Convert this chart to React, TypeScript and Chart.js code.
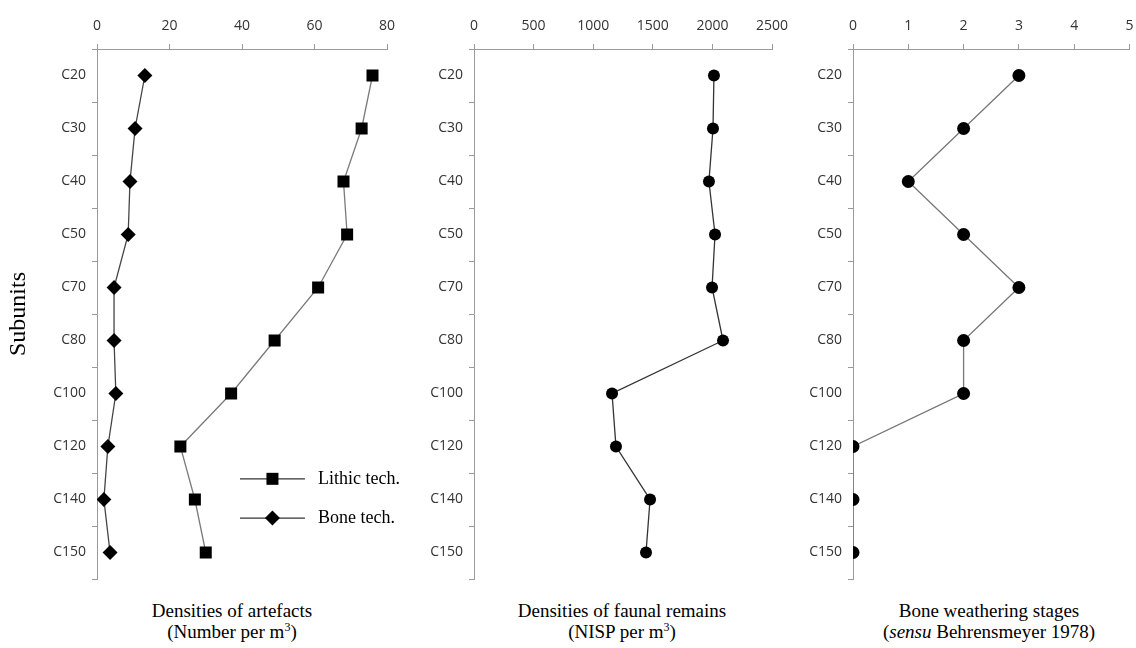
import React, { useEffect, useRef } from "react";
import { Chart, registerables } from "chart.js";

Chart.register(...registerables);

const subunits = ["C20", "C30", "C40", "C50", "C70", "C80", "C100", "C120", "C140", "C150"];
const lithicTech = [76, 73, 68, 69, 61, 49, 37, 23, 27, 30];
const boneTech = [13.2, 10.5, 9.1, 8.6, 4.7, 4.7, 5.2, 3, 1.9, 3.6];
const faunalNisp = [2013, 2005, 1971, 2022, 1997, 2089, 1158, 1191, 1477, 1443];
const weatheringStage = [3, 2, 1, 2, 3, 2, 2, 0, 0, 0];

const artefactAxis = [0, 80, 20];
const faunalAxis = [0, 2500, 500];
const weatheringAxis = [0, 5, 1];

const legendLabels = ["Lithic tech.", "Bone tech."];

const TICK_FONT = { family: "'Open Sans', 'DejaVu Sans', sans-serif", size: 14 };
const TICK_COLOR = "#333";
const AXIS_COLOR = "#9a9a9a";

type PanelProps = {
  left: number;
  width: number;
  height: number;
  yWidth: number;
  padRight: number;
  datasets: any[];
  axis: number[];
  yTitle?: string;
  legend?: boolean;
};

const legendPlugin = {
  id: "innerLegend",
  afterDatasetsDraw(chart: any) {
    const opts = chart.options.plugins.innerLegend;
    if (!opts || !opts.show) return;
    const { ctx, chartArea } = chart;
    const w = chartArea.right - chartArea.left;
    const h = chartArea.bottom - chartArea.top;
    const x0 = chartArea.left + w * 0.493;
    const x1 = chartArea.left + w * 0.717;
    const xm = (x0 + x1) / 2;
    const tx = chartArea.left + w * 0.762;
    const rows = [chartArea.top + h * 0.811, chartArea.top + h * 0.885];
    chart.data.datasets.forEach((ds: any, i: number) => {
      const y = rows[i];
      ctx.save();
      ctx.strokeStyle = "#333";
      ctx.lineWidth = 1.3;
      ctx.beginPath();
      ctx.moveTo(x0, y);
      ctx.lineTo(x1, y);
      ctx.stroke();
      ctx.fillStyle = "#000";
      ctx.beginPath();
      if (ds.pointStyle === "rect") {
        ctx.rect(xm - 6, y - 6, 12, 12);
      } else {
        ctx.moveTo(xm, y - 7.5);
        ctx.lineTo(xm + 7.5, y);
        ctx.lineTo(xm, y + 7.5);
        ctx.lineTo(xm - 7.5, y);
        ctx.closePath();
      }
      ctx.fill();
      ctx.font = "18px 'Liberation Serif', serif";
      ctx.textAlign = "left";
      ctx.textBaseline = "middle";
      ctx.fillStyle = "#000";
      ctx.fillText(legendLabels[i], tx, y);
      ctx.restore();
    });
  },
};

function Panel(p: PanelProps) {
  const ref = useRef<HTMLCanvasElement | null>(null);
  useEffect(() => {
    if (!ref.current) return;
    const chart = new Chart(ref.current, {
      type: "line",
      data: { labels: subunits, datasets: p.datasets },
      plugins: [legendPlugin],
      options: {
        responsive: false,
        animation: false,
        indexAxis: "y",
        layout: { padding: { left: 0, top: 0, right: p.padRight, bottom: 21 } },
        plugins: {
          legend: { display: false },
          tooltip: { enabled: false },
          innerLegend: { show: !!p.legend },
        } as any,
        scales: {
          x: {
            type: "linear",
            position: "top",
            min: p.axis[0],
            max: p.axis[1],
            ticks: {
              stepSize: p.axis[2],
              font: TICK_FONT,
              color: TICK_COLOR,
              padding: 10,
              callback: (v: any) => String(v),
            },
            grid: { drawOnChartArea: false, drawTicks: true, tickLength: 5, color: AXIS_COLOR },
            border: { color: AXIS_COLOR, width: 1 },
            afterFit: (s: any) => {
              s.height = 49;
              s.paddingLeft = 0;
              s.paddingRight = 0;
            },
          },
          y: {
            type: "category",
            offset: true,
            ticks: { font: TICK_FONT, color: TICK_COLOR, padding: 6 },
            grid: { offset: true, drawOnChartArea: false, drawTicks: true, tickLength: 5, color: AXIS_COLOR },
            border: { color: AXIS_COLOR, width: 1 },
            title: p.yTitle
              ? {
                  display: true,
                  text: p.yTitle,
                  font: { family: "'Liberation Serif', serif", size: 24 },
                  color: "#000",
                  padding: { top: 4, bottom: 0 },
                }
              : { display: false },
            afterFit: (s: any) => {
              s.width = p.yWidth;
              s.paddingTop = 0;
              s.paddingBottom = 0;
            },
          },
        },
      } as any,
    });
    return () => chart.destroy();
  }, []);
  return (
    <canvas
      ref={ref}
      width={p.width}
      height={p.height}
      style={{ position: "absolute", left: p.left, top: 0, width: p.width, height: p.height }}
    />
  );
}

const titleStyle = (cx: number): React.CSSProperties => ({
  position: "absolute",
  left: cx - 160,
  width: 320,
  top: 600,
  textAlign: "center",
  fontFamily: "'Liberation Serif', serif",
  fontSize: 19,
  lineHeight: "21px",
  color: "#000",
});

const sup: React.CSSProperties = { fontSize: 12, verticalAlign: "super", lineHeight: 0 };

export default function App() {
  const lineBase = { borderWidth: 1.3, pointBackgroundColor: "#000", pointBorderColor: "#000", pointBorderWidth: 0, tension: 0 };
  return (
    <div style={{ position: "absolute", left: 0, top: 0, width: 1136, height: 648, background: "#fff", overflow: "hidden" }}>
      <Panel
        left={0}
        width={410}
        height={600}
        yWidth={97}
        padRight={23}
        axis={artefactAxis}
        yTitle="Subunits"
        legend
        datasets={[
          { ...lineBase, label: "Lithic tech.", data: lithicTech, borderColor: "#7a7a7a", pointStyle: "rect", pointRadius: 8.5 },
          { ...lineBase, label: "Bone tech.", data: boneTech, borderColor: "#444", pointStyle: "rectRot", pointRadius: 7.5 },
        ]}
      />
      <Panel
        left={400}
        width={400}
        height={600}
        yWidth={74}
        padRight={28}
        axis={faunalAxis}
        datasets={[{ ...lineBase, label: "NISP", data: faunalNisp, borderColor: "#333", pointStyle: "circle", pointRadius: 6 }]}
      />
      <Panel
        left={780}
        width={356}
        height={600}
        yWidth={73}
        padRight={1}
        axis={weatheringAxis}
        datasets={[{ ...lineBase, label: "Stage", data: weatheringStage, borderColor: "#777", pointStyle: "circle", pointRadius: 6.5 }]}
      />
      <div style={titleStyle(232)}>
        Densities of artefacts
        <br />
        (Number per m<span style={sup}>3</span>)
      </div>
      <div style={titleStyle(622)}>
        Densities of faunal remains
        <br />
        (NISP per m<span style={sup}>3</span>)
      </div>
      <div style={titleStyle(989)}>
        Bone weathering stages
        <br />
        (<i>sensu</i> Behrensmeyer 1978)
      </div>
    </div>
  );
}
